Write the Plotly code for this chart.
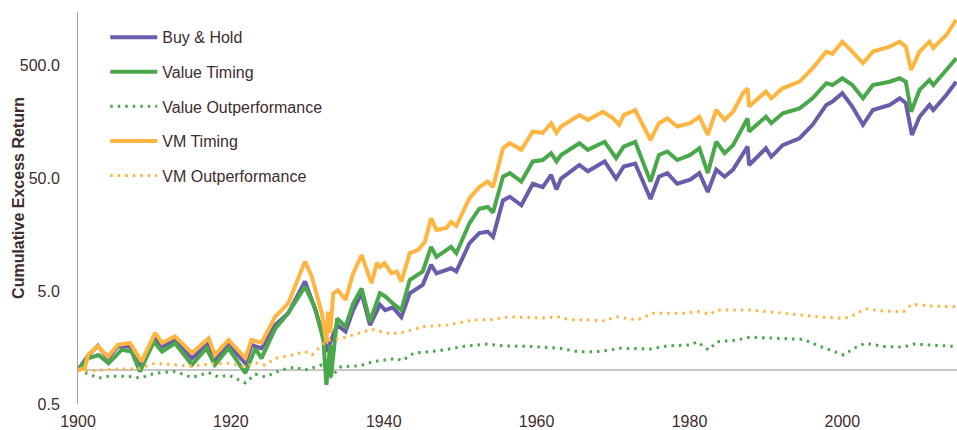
import math
import plotly.graph_objects as go

# Buy & Hold
bh_years = [1900.0, 1901.3, 1902.6, 1903.9, 1905.2, 1906.8, 1908.3, 1910.1, 1911.0, 1912.7,
            1914.9, 1917.1, 1917.9, 1919.7, 1921.9, 1922.7, 1924.0, 1925.8, 1927.5, 1929.7,
            1931.0, 1932.1, 1932.5, 1933.9, 1935.0, 1936.0, 1937.1, 1938.2, 1939.5, 1940.2,
            1941.2, 1942.3, 1943.4, 1945.1, 1946.2, 1946.9, 1948.8, 1949.5, 1951.2, 1952.5,
            1953.6, 1954.3, 1955.6, 1956.5, 1958.0, 1959.5, 1960.8, 1961.9, 1962.6, 1963.2,
            1965.6, 1966.7, 1968.9, 1970.4, 1971.4, 1972.9, 1974.9, 1976.0, 1977.1, 1978.4,
            1980.1, 1981.3, 1982.4, 1983.5, 1984.6, 1985.7, 1987.6, 1987.8, 1990.0, 1990.7,
            1992.2, 1994.4, 1996.1, 1997.9, 1998.7, 2000.0, 2001.3, 2002.7, 2004.0, 2006.2,
            2007.5, 2008.3, 2009.1, 2010.1, 2011.4, 2011.9, 2013.6, 2014.9]
bh_values = [1.0, 1.33, 1.64, 1.27, 1.62, 1.62, 1.07, 1.91, 1.62, 1.85,
             1.27, 1.73, 1.23, 1.67, 1.15, 1.67, 1.56, 2.51, 3.2, 6.1,
             3.5, 2.0, 1.45, 2.51, 2.2, 3.4, 4.8, 2.51, 3.8, 3.4,
             3.6, 2.95, 4.8, 5.7, 8.6, 7.2, 8.0, 7.5, 13.3, 16.4,
             16.9, 15.2, 32, 34.5, 29, 45, 42, 54, 40, 50,
             66, 58, 71, 50, 64, 68, 33, 52, 56, 45,
             49, 56, 38, 60, 52, 60, 96, 66, 93, 78,
             99, 114, 150, 225, 241, 286, 218, 150, 203, 225,
             258, 234, 122, 177, 225, 203, 276, 362]

# Value Timing
vt_years = [1900.0, 1901.3, 1902.7, 1904.0, 1905.7, 1907.0, 1908.1, 1909.9, 1911.0, 1912.7,
            1914.9, 1916.8, 1917.9, 1919.7, 1921.9, 1923.2, 1924.0, 1925.8, 1927.5, 1929.7,
            1931.0, 1932.1, 1932.5, 1933.0, 1933.1, 1933.9, 1935.0, 1936.0, 1937.1, 1938.2,
            1939.5, 1940.2, 1941.2, 1942.3, 1943.4, 1945.1, 1946.2, 1946.9, 1948.8, 1949.5,
            1951.2, 1952.5, 1953.6, 1954.3, 1955.6, 1956.5, 1958.0, 1959.5, 1960.8, 1961.9,
            1962.6, 1963.2, 1965.6, 1966.7, 1968.9, 1970.4, 1971.4, 1972.9, 1974.9, 1976.0,
            1977.1, 1978.4, 1980.1, 1981.3, 1982.4, 1983.5, 1984.6, 1985.7, 1987.6, 1987.8,
            1990.0, 1990.7, 1992.2, 1994.4, 1996.1, 1997.9, 1998.7, 2000.0, 2001.3, 2002.7,
            2004.0, 2006.2, 2007.5, 2008.3, 2009.0, 2010.1, 2011.4, 2011.9, 2013.6, 2014.9]
vt_values = [1.0, 1.27, 1.36, 1.15, 1.51, 1.46, 0.97, 1.79, 1.46, 1.73,
             1.11, 1.56, 1.11, 1.56, 0.94, 1.56, 1.27, 2.33, 3.2, 5.5,
             3.6, 1.85, 0.74, 1.67, 0.87, 2.87, 2.43, 3.9, 5.3, 2.7,
             4.8, 4.5, 3.9, 3.4, 6.3, 7.5, 12.4, 10.1, 12.4, 10.9,
             20, 27, 28, 25, 52, 56, 47, 71, 73, 84,
             71, 81, 103, 90, 106, 76, 96, 106, 47, 81,
             87, 73, 81, 93, 56, 106, 84, 99, 171, 131,
             177, 155, 190, 210, 258, 351, 338, 388, 338, 258,
             338, 362, 388, 362, 196, 306, 375, 338, 460, 585]

# Value Outperformance
vo_years = [1900.0, 1901.3, 1902.7, 1904.0, 1906.6, 1908.1, 1910.1, 1912.7, 1914.9, 1917.1,
            1918.4, 1919.7, 1921.9, 1923.2, 1924.5, 1926.7, 1928.4, 1929.7, 1931.0, 1931.9,
            1932.7, 1933.1, 1934.4, 1936.9, 1938.6, 1941.7, 1942.4, 1943.9, 1947.4, 1950.4,
            1953.5, 1955.7, 1959.2, 1963.1, 1965.5, 1968.3, 1970.9, 1974.9, 1977.1, 1980.1,
            1981.0, 1982.5, 1983.6, 1986.2, 1988.0, 1992.3, 1994.9, 1997.1, 2000.2, 2001.5,
            2003.0, 2005.4, 2008.0, 2009.3, 2011.9, 2014.9]
vo_values = [1.0, 0.92, 0.85, 0.88, 0.88, 0.85, 0.94, 0.97, 0.86, 0.95,
             0.87, 0.90, 0.77, 0.92, 0.87, 1.01, 1.06, 1.0, 1.06, 1.11,
             0.97, 0.87, 1.07, 1.09, 1.19, 1.27, 1.21, 1.41, 1.49, 1.62,
             1.70, 1.64, 1.62, 1.56, 1.45, 1.46, 1.56, 1.54, 1.64, 1.67,
             1.78, 1.51, 1.78, 1.85, 1.96, 1.92, 1.87, 1.62, 1.36, 1.56,
             1.73, 1.62, 1.6, 1.7, 1.67, 1.62]

# VM Timing
vmt_years = [1900.0, 1900.9, 1901.3, 1902.6, 1903.9, 1905.2, 1906.8, 1908.3, 1910.1, 1911.0,
             1912.7, 1914.9, 1917.1, 1917.9, 1919.7, 1921.9, 1922.7, 1924.0, 1925.8, 1927.5,
             1929.7, 1930.6, 1931.9, 1932.5, 1932.7, 1933.0, 1933.4, 1934.0, 1935.0, 1936.0,
             1937.1, 1938.4, 1939.1, 1939.5, 1940.1, 1941.0, 1941.7, 1942.3, 1943.4, 1944.5,
             1945.4, 1946.2, 1946.9, 1948.2, 1948.8, 1949.5, 1951.2, 1952.5, 1953.6, 1954.3,
             1955.6, 1956.5, 1958.0, 1959.5, 1960.8, 1961.9, 1962.6, 1963.2, 1965.6, 1966.7,
             1968.7, 1970.0, 1970.8, 1971.4, 1972.9, 1974.9, 1976.0, 1977.1, 1978.4, 1980.1,
             1981.3, 1982.4, 1983.5, 1984.6, 1985.7, 1987.0, 1987.6, 1987.8, 1990.0, 1990.7,
             1992.2, 1994.4, 1996.1, 1997.9, 1998.7, 2000.0, 2001.3, 2002.7, 2004.0, 2006.2,
             2007.5, 2008.3, 2009.0, 2010.1, 2011.4, 2011.9, 2013.6, 2014.9]
vmt_values = [1.0, 1.04, 1.36, 1.63, 1.31, 1.67, 1.74, 1.19, 2.14, 1.74,
              1.99, 1.42, 1.92, 1.36, 1.85, 1.28, 1.85, 1.74, 2.98, 3.9,
              9.2, 6.7, 3.2, 1.74, 3.3, 2.14, 4.8, 5.1, 4.2, 7.2,
              10.5, 5.9, 8.9, 8.2, 8.9, 7.2, 7.5, 6.1, 10.9, 11.6,
              13.8, 22.2, 17.5, 18.2, 20.7, 19, 33.4, 42, 47, 42,
              93, 103, 90, 131, 127, 155, 127, 145, 183, 166,
              196, 171, 150, 183, 203, 110, 155, 171, 145, 155,
              177, 122, 203, 166, 196, 286, 316, 218, 296, 258,
              316, 363, 476, 670, 640, 820, 670, 527, 670, 740,
              820, 740, 460, 670, 820, 720, 940, 1280]

# VM Outperformance
vmo_years = [1900.0, 1901.3, 1904.0, 1906.5, 1907.9, 1910.1, 1912.7, 1914.9, 1917.1, 1919.7,
             1921.9, 1923.2, 1924.5, 1925.8, 1928.0, 1929.7, 1930.6, 1931.9, 1932.8, 1933.6,
             1934.5, 1936.5, 1938.4, 1940.8, 1942.4, 1945.2, 1948.3, 1951.7, 1953.9, 1956.5,
             1958.3, 1960.9, 1962.7, 1964.4, 1966.1, 1968.8, 1970.5, 1973.1, 1975.3, 1979.2,
             1981.2, 1982.7, 1983.6, 1988.0, 1992.3, 1996.7, 2000.2, 2001.5, 2003.0, 2005.4,
             2008.0, 2009.1, 2011.5, 2014.9]
vmo_values = [1.0, 0.98, 1.01, 1.03, 1.03, 1.15, 1.11, 1.08, 1.13, 1.15,
              1.07, 1.16, 1.11, 1.27, 1.36, 1.46, 1.36, 1.67, 1.85, 1.87,
              1.92, 2.1, 2.3, 2.1, 2.15, 2.43, 2.51, 2.78, 2.8, 2.97,
              2.95, 2.9, 2.97, 2.8, 2.8, 2.74, 2.97, 2.78, 3.2, 3.2,
              3.3, 3.13, 3.41, 3.41, 3.2, 2.97, 2.87, 3.08, 3.5, 3.34,
              3.3, 3.85, 3.7, 3.65]

y_tickvals = [0.5, 5, 50, 500]
y_ticktext = ["0.5", "5.0", "50.0", "500.0"]
x_tickvals = [1900, 1920, 1940, 1960, 1980, 2000]

PURPLE = "#6a5bab"
GREEN = "#48a84a"
ORANGE = "#ffb53f"
TEXT = "#3e2c2c"
FONT = "Liberation Sans, Arial, sans-serif"

series = [
    ("Buy & Hold", bh_years, bh_values, PURPLE, "solid", 4),
    ("Value Timing", vt_years, vt_values, GREEN, "solid", 4),
    ("Value Outperformance", vo_years, vo_values, GREEN, "2.5px,5px", 3),
    ("VM Timing", vmt_years, vmt_values, ORANGE, "solid", 4),
    ("VM Outperformance", vmo_years, vmo_values, ORANGE, "2.5px,5px", 3),
]

fig = go.Figure()
for i, (name, xs, ys, color, dash, width) in enumerate(series):
    fig.add_trace(go.Scatter(
        x=xs, y=ys, name=name, mode="lines",
        legendgroup=f"g{i}",
        line=dict(color=color, width=width, dash=dash),
    ))

# the horizontal axis crosses at 1
fig.add_shape(type="line", xref="paper", x0=0, x1=1, yref="y", y0=1, y1=1,
              line=dict(color="#b4b4b4", width=1.5), layer="below")

fig.add_annotation(
    text="<b>Cumulative Excess Return</b>", textangle=-90,
    xref="paper", yref="paper", x=-0.0677, y=0.527,
    xanchor="center", yanchor="middle",
    showarrow=False, font=dict(family=FONT, size=16, color=TEXT),
)

fig.update_layout(
    width=957, height=430,
    margin=dict(l=78, r=0, t=12, b=26),
    paper_bgcolor="white", plot_bgcolor="white",
    font=dict(family=FONT, size=16, color=TEXT),
    showlegend=True,
    legend=dict(
        x=0.031, y=0.979, xanchor="left", yanchor="top",
        bgcolor="rgba(0,0,0,0)", font=dict(size=16, color=TEXT),
        traceorder="grouped", tracegroupgap=10.8, itemwidth=47,
    ),
    xaxis=dict(
        range=[1900, 2015], tickvals=x_tickvals, showgrid=False,
        zeroline=False, showline=False, ticks="", ticklabelstandoff=6,
        automargin=False,
    ),
    yaxis=dict(
        type="log", range=[math.log10(0.5), 3.177],
        tickvals=y_tickvals, ticktext=y_ticktext, showgrid=False,
        zeroline=False, showline=True, linecolor="#a0a0a0", linewidth=1,
        ticks="", ticklabelstandoff=14, automargin=False,
    ),
)

fig.write_html("out.html", config={"displayModeBar": False},
               post_script="document.body.style.margin='0px';")
